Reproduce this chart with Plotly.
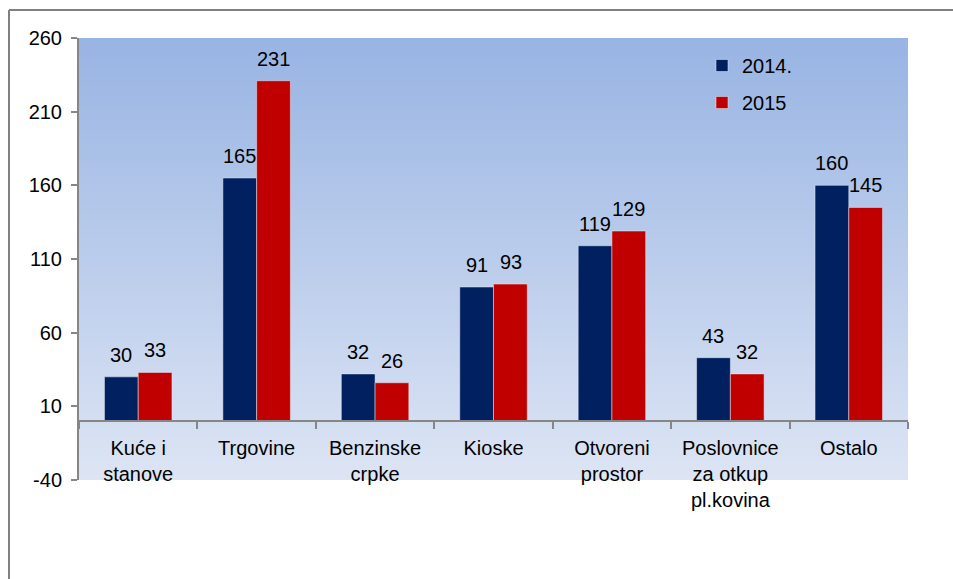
import base64

import plotly.graph_objects as go

categories = ["Kuće i<br>stanove", "Trgovine", "Benzinske<br>crpke", "Kioske",
              "Otvoreni<br>prostor", "Poslovnice<br>za otkup<br>pl.kovina", "Ostalo"]
values_2014 = [30, 165, 32, 91, 119, 43, 160]
values_2015 = [33, 231, 26, 93, 129, 32, 145]
y_ticks = [-40, 10, 60, 110, 160, 210, 260]
y_ticklabels = ["-40", "10", "60", "110", "160", "210", "260"]

W, H = 953, 579
L, R, T, B = 79, 908, 38, 480

# vertical gradient for the plot area
svg = (
    '<svg xmlns="http://www.w3.org/2000/svg" width="100" height="100" preserveAspectRatio="none">'
    '<defs><linearGradient id="g" x1="0" y1="0" x2="0" y2="1">'
    '<stop offset="0" stop-color="#98b4e3"/><stop offset="1" stop-color="#dde5f4"/>'
    '</linearGradient></defs><rect width="100" height="100" fill="url(#g)"/></svg>'
)
bg_src = "data:image/svg+xml;base64," + base64.b64encode(svg.encode()).decode()

font = "Liberation Sans, Arial, sans-serif"

fig = go.Figure()
fig.add_trace(go.Bar(x=categories, y=values_2014, name="2014.",
                     marker_color="#002060", legendgroup="a"))
fig.add_trace(go.Bar(x=categories, y=values_2015, name="2015",
                     marker_color="#c00000", legendgroup="b"))

# value labels above the bars, a little further up than plotly's "outside"
annotations = []
for vals, shift in [(values_2014, -17), (values_2015, 17)]:
    for cat, v in zip(categories, vals):
        annotations.append(dict(
            x=cat, y=v, text=str(v), showarrow=False, xshift=shift,
            yanchor="bottom", yshift=9, font=dict(size=20, color="black"),
        ))

px_x = lambda p: (p - L) / (R - L)
px_y = lambda p: (B - p) / (B - T)

fig.update_layout(
    width=W, height=H,
    margin=dict(l=L, r=W - R, t=T, b=H - B, pad=0),
    paper_bgcolor="white",
    plot_bgcolor="rgba(0,0,0,0)",
    font=dict(family=font, size=20, color="black"),
    barmode="group", bargap=0.43, bargroupgap=0,
    showlegend=True,
    legend=dict(x=px_x(702), y=px_y(46), xanchor="left", yanchor="top",
                bgcolor="rgba(0,0,0,0)", font=dict(size=20),
                tracegroupgap=8, itemwidth=30),
    annotations=annotations,
    images=[dict(source=bg_src, xref="paper", yref="paper", x=0, y=1,
                 sizex=1, sizey=1, sizing="stretch", layer="below")],
    shapes=[
        dict(type="line", xref="paper", yref="paper",
             x0=px_x(9), x1=px_x(9), y0=px_y(10), y1=px_y(600),
             line=dict(color="#808080", width=2)),
        dict(type="line", xref="paper", yref="paper",
             x0=px_x(9), x1=px_x(980), y0=px_y(10), y1=px_y(10),
             line=dict(color="#808080", width=2)),
    ],
    xaxis=dict(
        anchor="free", position=40 / 300,
        showline=True, linecolor="#868686", linewidth=2,
        ticks="outside", tickson="boundaries", ticklen=7, tickcolor="#868686", tickwidth=2,
        tickfont=dict(size=20), showgrid=False, ticklabelstandoff=9,
    ),
    yaxis=dict(
        range=[-40, 260], tickvals=y_ticks, ticktext=y_ticklabels,
        showgrid=False, zeroline=False,
        showline=True, linecolor="#868686", linewidth=2,
        ticks="outside", ticklen=6, tickcolor="#868686", tickwidth=2,
        tickfont=dict(size=20), ticklabelstandoff=5,
    ),
)

fig.write_html("out.html", config={"displayModeBar": False},
               post_script="document.body.style.margin='0px';")
